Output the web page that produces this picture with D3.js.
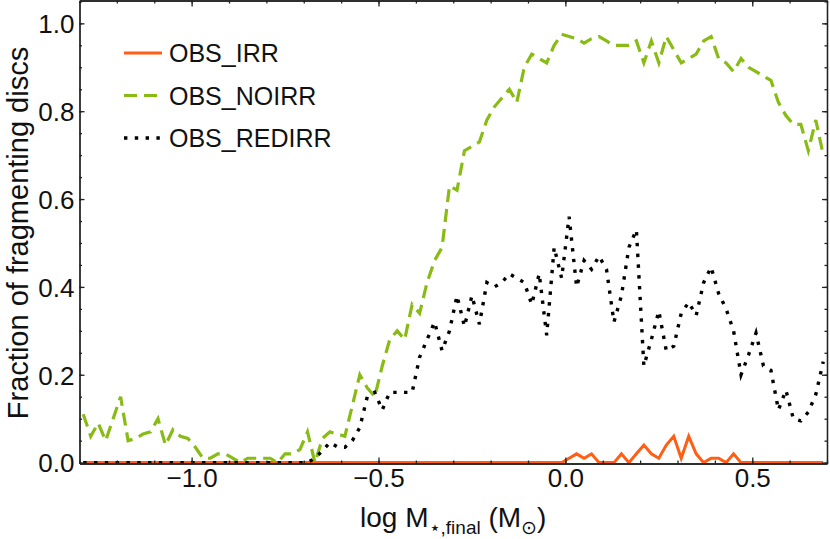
<!DOCTYPE html>
<html>
<head>
<meta charset="utf-8">
<script src="https://cdn.jsdelivr.net/npm/d3@7"></script>
<style>
  body { margin: 0; background: #fff; }
  svg { display: block; font-family: "Liberation Sans", Arial, sans-serif; }
  .frame path, .frame line { stroke: #222; stroke-width: 1.3; }
  .frame text { font-size: 26px; fill: #111; font-family: "Liberation Sans", Arial, sans-serif; }
</style>
</head>
<body>
<script>
// bin centres of log M*,final
var logMass = [-1.29, -1.27, -1.25, -1.23, -1.21, -1.19, -1.17, -1.15, -1.13, -1.11,
    -1.09, -1.07, -1.05, -1.03, -1.01, -0.99, -0.97, -0.95, -0.93, -0.91,
    -0.89, -0.87, -0.85, -0.83, -0.81, -0.79, -0.77, -0.75, -0.73, -0.71,
    -0.69, -0.67, -0.65, -0.63, -0.61, -0.59, -0.57, -0.55, -0.53, -0.51,
    -0.49, -0.47, -0.45, -0.43, -0.41, -0.39, -0.37, -0.35, -0.33, -0.31,
    -0.29, -0.27, -0.25, -0.23, -0.21, -0.19, -0.17, -0.15, -0.13, -0.11,
    -0.09, -0.07, -0.05, -0.03, -0.01, 0.01, 0.03, 0.05, 0.07, 0.09,
    0.11, 0.13, 0.15, 0.17, 0.19, 0.21, 0.23, 0.25, 0.27, 0.29,
    0.31, 0.33, 0.35, 0.37, 0.39, 0.41, 0.43, 0.45, 0.47, 0.49,
    0.51, 0.53, 0.55, 0.57, 0.59, 0.61, 0.63, 0.65, 0.67, 0.69];

var obsIrr = [0, 0, 0, 0, 0, 0, 0, 0, 0, 0,
    0, 0, 0, 0, 0, 0, 0, 0, 0, 0,
    0, 0, 0, 0, 0, 0, 0, 0, 0, 0,
    0, 0, 0, 0, 0, 0, 0, 0, 0, 0,
    0, 0, 0, 0, 0, 0, 0, 0, 0, 0,
    0, 0, 0, 0, 0, 0, 0, 0, 0, 0,
    0, 0, 0, 0, 0, 0.01, 0.02, 0.01, 0.02, 0,
    0, 0, 0.02, 0, 0.02, 0.04, 0.02, 0.01, 0.04, 0.06,
    0.01, 0.06, 0.02, 0, 0.01, 0.01, 0, 0.02, 0, 0,
    0, 0, 0, 0, 0, 0, 0, 0, 0, 0];

var obsNoIrr = [0.11, 0.06, 0.09, 0.05, 0.10, 0.15, 0.05, 0.055, 0.065, 0.07,
    0.10, 0.04, 0.075, 0.06, 0.055, 0.035, 0.01, 0.01, 0.02, 0.02,
    0.01, 0, 0.01, 0.01, 0.01, 0.01, 0, 0.02, 0.02, 0.03,
    0.07, 0, 0.055, 0.07, 0.065, 0.06, 0.13, 0.20, 0.17, 0.15,
    0.22, 0.28, 0.30, 0.28, 0.36, 0.34, 0.41, 0.46, 0.49, 0.63,
    0.62, 0.71, 0.72, 0.73, 0.78, 0.81, 0.83, 0.85, 0.82, 0.90,
    0.93, 0.92, 0.91, 0.95, 0.975, 0.97, 0.965, 0.955, 0.965, 0.97,
    0.96, 0.95, 0.95, 0.95, 0.96, 0.91, 0.96, 0.91, 0.97, 0.94,
    0.91, 0.92, 0.93, 0.96, 0.97, 0.92, 0.91, 0.89, 0.92, 0.90,
    0.89, 0.88, 0.87, 0.82, 0.79, 0.77, 0.77, 0.71, 0.78, 0.70];

var obsRedIrr = [0, 0, 0, 0, 0, 0, 0, 0, 0, 0,
    0, 0, 0, 0, 0, 0, 0, 0, 0, 0,
    0, 0, 0, 0, 0, 0, 0, 0, 0, 0,
    0, 0.01, 0.027, 0.046, 0.036, 0.035, 0.05, 0.08, 0.15, 0.16,
    0.12, 0.16, 0.16, 0.16, 0.16, 0.24, 0.28, 0.32, 0.255, 0.30,
    0.38, 0.31, 0.38, 0.315, 0.41, 0.40, 0.41, 0.43, 0.42, 0.41,
    0.36, 0.43, 0.29, 0.49, 0.42, 0.56, 0.40, 0.46, 0.44, 0.47,
    0.44, 0.32, 0.38, 0.49, 0.53, 0.22, 0.28, 0.345, 0.255, 0.265,
    0.34, 0.365, 0.335, 0.41, 0.445, 0.385, 0.35, 0.30, 0.20, 0.245,
    0.295, 0.22, 0.21, 0.12, 0.165, 0.10, 0.095, 0.115, 0.155, 0.23];

var seriesNames = ["OBS_IRR", "OBS_NOIRR", "OBS_REDIRR"];
var xTicks = [-1.0, -0.5, 0.0, 0.5];
var yTicks = [0.0, 0.2, 0.4, 0.6, 0.8, 1.0];

var margin = { top: 0.5, right: 3, bottom: 75.5, left: 79.5 };
var width = 830 - margin.left - margin.right;
var height = 539 - margin.top - margin.bottom;

var series = [
    { name: seriesNames[0], values: obsIrr, color: "#ff5e14", dash: null, w: 3 },
    { name: seriesNames[1], values: obsNoIrr, color: "#88bb14", dash: "13,7", w: 3.2 },
    { name: seriesNames[2], values: obsRedIrr, color: "#000", dash: "3.4,7.4", w: 3.4 }
];

var svg = d3.select("body").append("svg")
    .attr("width", 830)
    .attr("height", 539)
    .append("g")
    .attr("transform", "translate(" + margin.left + "," + margin.top + ")");

var x = d3.scaleLinear().domain([-1.3, 0.7]).range([0, width]);
var y = d3.scaleLinear().domain([-0.002, 1.052]).range([height, 0]);

svg.append("clipPath").attr("id", "plotclip")
    .append("rect").attr("width", width).attr("height", height);

var line = d3.line()
    .x(function (d) { return x(d[0]); })
    .y(function (d) { return y(d[1]); });

svg.append("g").attr("clip-path", "url(#plotclip)")
    .selectAll("path")
    .data(series)
    .enter()
      .append("path")
        .attr("fill", "none")
        .attr("stroke", function (d) { return d.color; })
        .attr("stroke-width", function (d) { return d.w; })
        .attr("stroke-dasharray", function (d) { return d.dash; })
        .attr("stroke-linejoin", "miter")
        .attr("d", function (d) { return line(d.values.map(function (v, i) { return [logMass[i], v]; })); });

// frame with inward ticks on all four sides
var fmt = d3.format(".1f");
var xMinor = x.ticks(20);
var yMinor = y.ticks(20).filter(function (v) { return v >= 0 && v <= 1.05; });

function frameAxis(axis, cls, tf) {
    var g = svg.append("g").attr("class", "frame " + cls);
    if (tf) g.attr("transform", tf);
    g.call(axis);
    return g;
}

frameAxis(d3.axisBottom(x).tickValues(xTicks).tickFormat(fmt).tickSizeInner(-6).tickSizeOuter(0).tickPadding(14), "xb", "translate(0," + height + ")");
frameAxis(d3.axisBottom(x).tickValues(xMinor).tickFormat("").tickSizeInner(-3).tickSizeOuter(0), "xbm", "translate(0," + height + ")");
frameAxis(d3.axisTop(x).tickValues(xTicks).tickFormat("").tickSizeInner(-6).tickSizeOuter(0), "xt");
frameAxis(d3.axisTop(x).tickValues(xMinor).tickFormat("").tickSizeInner(-3).tickSizeOuter(0), "xtm");
frameAxis(d3.axisLeft(y).tickValues(yTicks).tickFormat(fmt).tickSizeInner(-5).tickSizeOuter(0).tickPadding(5), "yl");
frameAxis(d3.axisLeft(y).tickValues(yMinor).tickFormat("").tickSizeInner(-2.5).tickSizeOuter(0), "ylm");
frameAxis(d3.axisRight(y).tickValues(yTicks).tickFormat("").tickSizeInner(-5).tickSizeOuter(0), "yr", "translate(" + width + ",0)");
frameAxis(d3.axisRight(y).tickValues(yMinor).tickFormat("").tickSizeInner(-2.5).tickSizeOuter(0), "yrm", "translate(" + width + ",0)");

svg.selectAll(".xb text").attr("dy", "0.35em");
svg.selectAll(".yl text").attr("dy", "0.36em");

// legend
var legend = svg.append("g")
    .attr("transform", "translate(" + (124 - margin.left) + "," + (53 - margin.top) + ")");

var rows = legend.selectAll("g")
    .data(series)
    .enter()
      .append("g")
        .attr("transform", function (d, i) { return "translate(0," + (i * 42.5) + ")"; });

rows.append("line")
    .attr("x1", 0).attr("x2", 38)
    .attr("stroke", function (d) { return d.color; })
    .attr("stroke-width", function (d) { return d.w; })
    .attr("stroke-dasharray", function (d) { return d.dash; });

rows.append("text")
    .attr("x", 45)
    .attr("y", 9)
    .attr("font-size", 25)
    .attr("fill", "#111")
    .text(function (d) { return d.name; });

// axis labels
var xl = svg.append("text")
    .attr("x", width / 2)
    .attr("y", 527 - margin.top)
    .attr("text-anchor", "middle")
    .attr("font-size", 28)
    .attr("fill", "#111");
xl.append("tspan").text("log M");
xl.append("tspan").attr("font-size", 19).attr("dy", 7).text("\u22c6,final");
xl.append("tspan").attr("dy", -7).text(" (M");
xl.append("tspan").attr("font-size", 19).attr("dy", 7).text("\u2299");
xl.append("tspan").attr("dy", -7).text(")");

svg.append("text")
    .attr("transform", "translate(" + (27.5 - margin.left) + "," + (233 - margin.top) + ") rotate(-90)")
    .attr("text-anchor", "middle")
    .attr("font-size", 29)
    .attr("fill", "#111")
    .text("Fraction of fragmenting discs");
</script>
</body>
</html>
